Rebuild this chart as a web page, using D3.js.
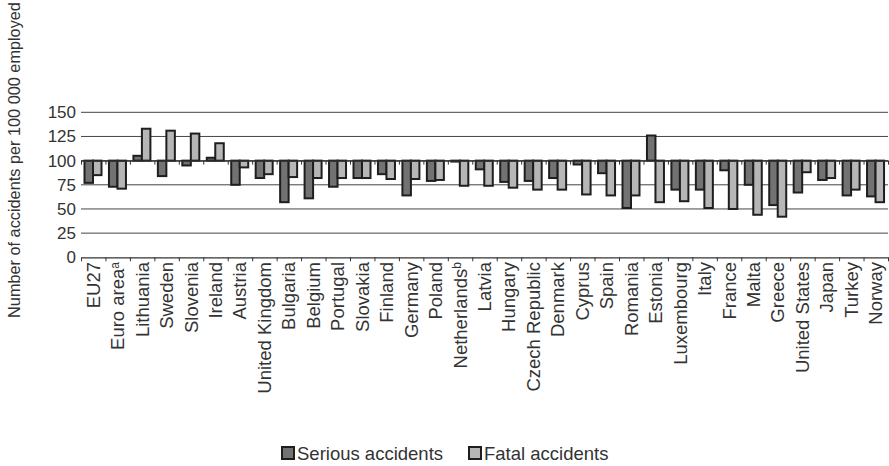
<!DOCTYPE html>
<html>
<head>
<meta charset="utf-8">
<script src="https://cdn.jsdelivr.net/npm/d3@7"></script>
<style>
  body { margin: 0; background: #fff; }
  text { font-family: "Liberation Sans", Arial, sans-serif; fill: #333; }
</style>
</head>
<body>
<div class="graph"></div>
<script>
var width = 889;
var height = 466;

var countries = ["EU27", "Euro area", "Lithuania", "Sweden", "Slovenia", "Ireland", "Austria",
  "United Kingdom", "Bulgaria", "Belgium", "Portugal", "Slovakia", "Finland", "Germany", "Poland",
  "Netherlands", "Latvia", "Hungary", "Czech Republic", "Denmark", "Cyprus", "Spain", "Romania",
  "Estonia", "Luxembourg", "Italy", "France", "Malta", "Greece", "United States", "Japan",
  "Turkey", "Norway"];
var notes = {"Euro area": "a", "Netherlands": "b"};
var serious = [77, 73, 105, 84, 95, 103, 75, 82, 57, 61, 73, 82, 86, 64, 79, 99, 91, 78, 79, 82,
  96, 87, 51, 126, 70, 70, 90, 75, 54, 67, 80, 64, 63];
var fatal = [85, 71, 133, 131, 128, 118, 93, 86, 83, 82, 82, 82, 81, 81, 80, 74, 74, 72, 70, 70,
  65, 64, 64, 57, 58, 51, 50, 44, 42, 88, 82, 70, 57];
var yTicks = [0, 25, 50, 75, 100, 125, 150];
var seriesNames = ["Serious accidents", "Fatal accidents"];
var colors = ["#727272", "#b6b6b6"];
var base = 100;

var svg = d3.select(".graph").append("svg")
  .attr("width", width)
  .attr("height", height);

var x = d3.scaleBand().domain(countries).range([81, 888]).padding(0);
var xi = d3.scaleLinear().domain([0, countries.length]).range([81, 888]);
var inner = d3.scaleBand().domain([0, 1]).range([3.5, 20.5]);
var y = d3.scaleLinear().domain([0, 150]).range([257.3, 112.3]);

// gridlines
svg.append("g")
  .selectAll("line")
  .data(yTicks.filter(d => d > 0))
  .enter().append("line")
  .attr("x1", 81).attr("x2", 888)
  .attr("y1", d => y(d)).attr("y2", d => y(d))
  .attr("stroke", "#444")
  .attr("stroke-width", 1);

// y labels
svg.append("g")
  .selectAll("text")
  .data(yTicks)
  .enter().append("text")
  .attr("x", 76)
  .attr("y", d => y(d) + 6)
  .attr("text-anchor", "end")
  .style("font-size", "17px")
  .text(d => d);

// bars, drawn up or down from 100
var rows = countries.map((c, i) => ({c: c, v: [serious[i], fatal[i]]}));
var groups = svg.append("g").selectAll("g")
  .data(rows)
  .enter().append("g")
  .attr("transform", d => "translate(" + x(d.c) + ",0)");

groups.selectAll("rect")
  .data(d => d.v.map((v, k) => ({k: k, v: v})))
  .enter().append("rect")
  .attr("x", d => inner(d.k))
  .attr("width", inner.bandwidth())
  .attr("y", d => y(Math.max(d.v, base)))
  .attr("height", d => Math.abs(y(d.v) - y(base)))
  .attr("fill", d => colors[d.k])
  .attr("stroke", "#1e1e1e")
  .attr("stroke-width", 2);

// tick rows at 100 and at 0
[base, 0].forEach(function (v) {
  var axis = d3.axisBottom(xi)
    .tickValues(d3.range(countries.length + 1))
    .tickFormat("")
    .tickSize(4)
    .tickSizeOuter(0);
  var g = svg.append("g")
    .attr("transform", "translate(0," + y(v) + ")")
    .call(axis);
  g.select(".domain").attr("stroke", "#333").attr("stroke-width", 1.2);
  g.selectAll(".tick line").attr("stroke", "#333");
});

// category labels
var labels = svg.append("g").selectAll("text")
  .data(countries)
  .enter().append("text")
  .attr("transform", d => "translate(" + (x(d) + x.bandwidth() / 2 + 6.5) + ",262) rotate(-90)")
  .attr("text-anchor", "end")
  .style("font-size", "18.5px")
  .text(d => d);
labels.filter(d => notes[d])
  .append("tspan")
  .attr("dy", "-0.45em")
  .style("font-size", "12px")
  .text(d => notes[d]);

// y title
svg.append("text")
  .attr("transform", "translate(20,160) rotate(-90)")
  .attr("text-anchor", "middle")
  .style("font-size", "16.3px")
  .text("Number of accidents per 100 000 employed");

// legend
var legendX = [282, 469];
var legend = svg.append("g").selectAll("g")
  .data(seriesNames)
  .enter().append("g")
  .attr("transform", (d, i) => "translate(" + legendX[i] + ",447)");
legend.append("rect")
  .attr("width", 12).attr("height", 12)
  .attr("fill", (d, i) => colors[i])
  .attr("stroke", "#1e1e1e")
  .attr("stroke-width", 2);
legend.append("text")
  .attr("x", 15)
  .attr("y", 13)
  .style("font-size", "18.5px")
  .text(d => d);
</script>
</body>
</html>
